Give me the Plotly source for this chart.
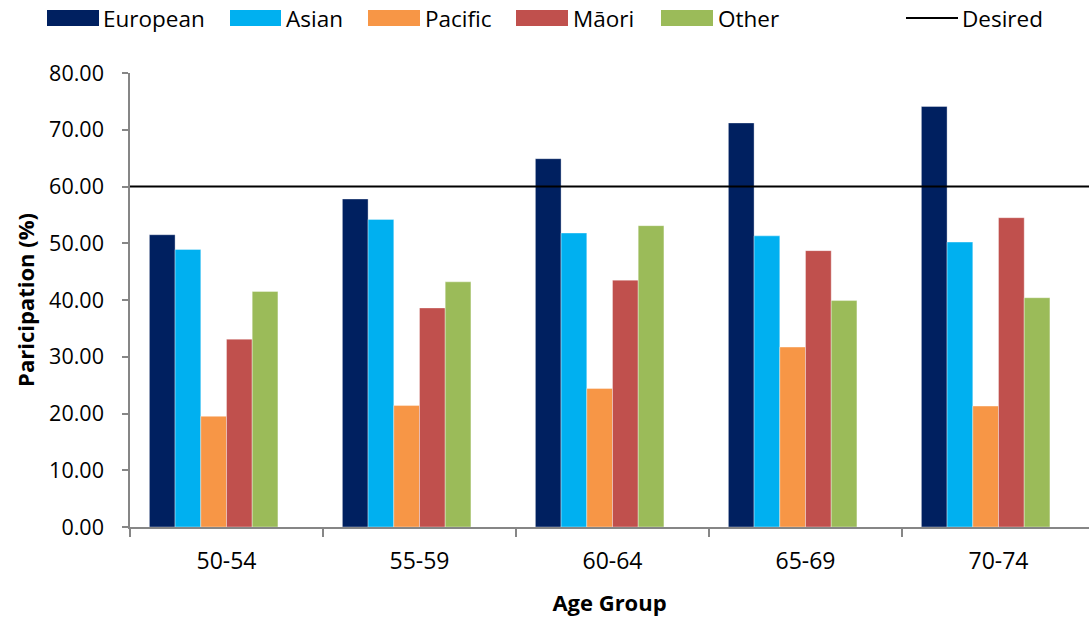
import plotly.graph_objects as go

# Age groups and participation rates (%) by ethnicity
age_groups = ["50-54", "55-59", "60-64", "65-69", "70-74"]
european = [51.5, 57.8, 64.9, 71.2, 74.1]
asian = [48.9, 54.2, 51.8, 51.3, 50.2]
pacific = [19.5, 21.4, 24.4, 31.7, 21.3]
maori = [33.1, 38.6, 43.5, 48.7, 54.5]
other = [41.5, 43.2, 53.1, 39.9, 40.4]
desired = 60.0

series_names = ["European", "Asian", "Pacific", "Māori", "Other"]
series_values = [european, asian, pacific, maori, other]
series_colors = ["#002060", "#00B0F0", "#F79646", "#C0504D", "#9BBB59"]

W, H = 1089, 620
L, R, T, B = 130, 0, 73, 93
plot_w = W - L - R
plot_h = H - T - B
cat_px = 193.0  # pixel width of one category slot

# Each group keeps six equal slots (the sixth belongs to the "Desired" series,
# which is drawn as a line), so the five bars sit left of the category centre.
bar_w = 0.1332
n_slots = 6

fig = go.Figure()
for i, (name, vals, col) in enumerate(zip(series_names, series_values, series_colors)):
    fig.add_trace(go.Bar(
        x=age_groups, y=vals, name=name,
        width=bar_w, offset=(i - n_slots / 2) * bar_w,
        marker=dict(color=col, line=dict(color="rgba(255,255,255,0.6)", width=0.6)),
        showlegend=False,
    ))

# Desired participation level
fig.add_shape(type="line", xref="paper", yref="y", x0=0, x1=1,
              y0=desired, y1=desired, line=dict(color="black", width=2),
              layer="above")

FONT = "Open Sans"
axis_col = "#868686"


def px_x(px):
    return (px - L) / plot_w


def px_y(py):
    return (H - B - py) / plot_h


# Legend row drawn as wide swatches with labels
legend_items = [
    ("European", "#002060", 47, 99, 104),
    ("Asian", "#00B0F0", 230, 281, 287),
    ("Pacific", "#F79646", 368, 420, 426),
    ("Māori", "#C0504D", 516, 568, 574),
    ("Other", "#9BBB59", 661, 713, 719),
]
leg_top, leg_bot, leg_mid = 10, 26, 18
for label, col, x0, x1, tx in legend_items:
    fig.add_shape(type="rect", xref="paper", yref="paper",
                  x0=px_x(x0), x1=px_x(x1), y0=px_y(leg_bot), y1=px_y(leg_top),
                  fillcolor=col, line=dict(width=0))
    fig.add_annotation(x=px_x(tx - 3), y=px_y(leg_mid), xref="paper", yref="paper",
                       text=label, showarrow=False, xanchor="left", yanchor="middle",
                       font=dict(family=FONT, size=22.5, color="black"))
fig.add_shape(type="line", xref="paper", yref="paper",
              x0=px_x(906), x1=px_x(958), y0=px_y(leg_mid), y1=px_y(leg_mid),
              line=dict(color="black", width=2))
fig.add_annotation(x=px_x(960), y=px_y(leg_mid), xref="paper", yref="paper",
                   text="Desired", showarrow=False, xanchor="left", yanchor="middle",
                   font=dict(family=FONT, size=22.5, color="black"))

fig.update_layout(
    width=W, height=H,
    margin=dict(l=L, r=R, t=T, b=B, pad=0),
    paper_bgcolor="white", plot_bgcolor="white",
    barmode="group", bargap=0.2, bargroupgap=0,
    font=dict(family=FONT, color="black"),
    showlegend=False,
)
fig.update_xaxes(
    type="category",
    range=[-0.5, -0.5 + plot_w / cat_px],
    showline=True, linecolor=axis_col, linewidth=1.5,
    ticks="outside", tickson="boundaries", ticklen=8, tickcolor=axis_col, tickwidth=1.5,
    ticklabelstandoff=13,
    tickfont=dict(family=FONT, size=23, color="black"),
    showgrid=False, zeroline=False,
    title=dict(text="<b>Age Group</b>", font=dict(family=FONT, size=22, color="black"),
               standoff=20),
)
fig.update_yaxes(
    range=[0, 80], dtick=10, tickformat=".2f",
    showline=True, linecolor=axis_col, linewidth=1.5,
    ticks="outside", ticklen=6, tickcolor=axis_col, tickwidth=1.5,
    ticklabelstandoff=14,
    tickfont=dict(family=FONT, size=21.5, color="black"),
    showgrid=False, zeroline=False,
    title=dict(text="<b>Paricipation (%)</b>", font=dict(family=FONT, size=22, color="black"),
               standoff=8),
)

fig.write_html("out.html")
